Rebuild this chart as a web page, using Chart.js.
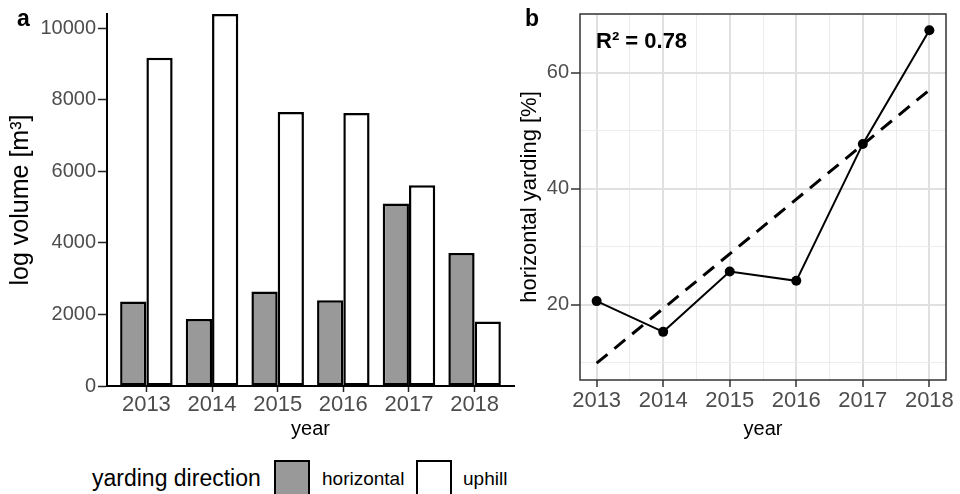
<!DOCTYPE html>
<html lang="en">
<head>
<meta charset="UTF-8">
<title>yarding direction</title>
<script src="https://cdn.jsdelivr.net/npm/chart.js"></script>
<style>
  body { margin: 0; background: #fff; width: 960px; height: 494px; overflow: hidden; position: relative;
         font-family: "Liberation Sans", Arial, sans-serif; }
  canvas { position: absolute; top: 0; }
  .lbl { position: absolute; font-weight: bold; font-size: 23px; line-height: 23px; color: #000; }
  .leg { position: absolute; color: #000; white-space: nowrap; }
  .box { position: absolute; width: 32px; height: 34px; border: 2px solid #000; }
</style>
</head>
<body>
<canvas id="chartA" width="530" height="450" style="left:0"></canvas>
<canvas id="chartB" width="460" height="450" style="left:500px"></canvas>

<div class="lbl" style="left:17px; top:7px">a</div>
<div class="lbl" style="left:525px; top:7px">b</div>

<div class="leg" style="left:92px; top:467px; font-size:23px; line-height:23px">yarding direction</div>
<div class="box" style="left:274px; top:460px; background:#999999"></div>
<div class="leg" style="left:322px; top:469px; font-size:19px; line-height:19px">horizontal</div>
<div class="box" style="left:416px; top:460px; background:#ffffff"></div>
<div class="leg" style="left:463px; top:469px; font-size:19px; line-height:19px">uphill</div>

<script>
  // values
  const years = [2013, 2014, 2015, 2016, 2017, 2018];
  const horizontalVol = [2360, 1870, 2640, 2400, 5100, 3720];
  const uphillVol = [9180, 10400, 7660, 7630, 5610, 1800];
  const volTicks = [0, 2000, 4000, 6000, 8000, 10000];

  const horizontalPct = [20.6, 15.3, 25.7, 24.1, 47.7, 67.3];
  const trendYears = [2013, 2018];
  const trendPct = [9.9, 57.0];
  const pctMajor = [20, 40, 60];
  const pctMinor = [10, 30, 50, 70];
  const yearMinor = [2013.5, 2014.5, 2015.5, 2016.5, 2017.5];

  Chart.defaults.font.family = '"Liberation Sans", Arial, sans-serif';
  Chart.defaults.animation = false;

  const tickGrey = '#4d4d4d';
  const asText = (v) => String(v);

  // panel a: log volume by year
  new Chart(document.getElementById('chartA'), {
    type: 'bar',
    data: {
      datasets: [
        {
          label: 'horizontal',
          data: years.map((x, i) => ({ x: x, y: horizontalVol[i] })),
          backgroundColor: '#999999',
          borderColor: '#000',
          borderWidth: 2.5,
          borderSkipped: false
        },
        {
          label: 'uphill',
          data: years.map((x, i) => ({ x: x, y: uphillVol[i] })),
          backgroundColor: '#ffffff',
          borderColor: '#000',
          borderWidth: 2.5,
          borderSkipped: false
        }
      ]
    },
    options: {
      responsive: false,
      layout: { padding: { top: 11, right: 16, left: 0, bottom: 0 } },
      categoryPercentage: 0.8,
      barPercentage: 1.0,
      plugins: { legend: { display: false }, tooltip: { enabled: false } },
      scales: {
        x: {
          type: 'linear',
          min: 2012.4,
          max: 2018.6,
          offset: false,
          afterBuildTicks: (s) => { s.ticks = years.map(v => ({ value: v })); },
          afterFit: (s) => { s.height = 64; },
          grid: { display: true, offset: false, drawOnChartArea: false, tickLength: 6, tickColor: '#222', tickWidth: 1.5 },
          border: { display: true, color: '#000', width: 2 },
          ticks: { color: tickGrey, font: { size: 22 }, padding: 0, autoSkip: false, maxRotation: 0, callback: asText },
          title: { display: true, text: 'year', color: '#000', font: { size: 20 }, padding: { top: 0, bottom: 9 } }
        },
        y: {
          min: 0,
          max: 10400,
          afterBuildTicks: (s) => { s.ticks = volTicks.map(v => ({ value: v })); },
          afterFit: (s) => { s.width = 107; },
          grid: { display: true, drawOnChartArea: false, tickLength: 9, tickColor: '#222', tickWidth: 1.5 },
          border: { display: true, color: '#000', width: 2 },
          ticks: { color: tickGrey, font: { size: 20 }, padding: 2, callback: asText },
          title: { display: true, text: 'log volume [m³]', color: '#000', font: { size: 25 }, padding: { top: 6, bottom: 0 } }
        }
      }
    }
  });

  // frame + R² label for panel b
  const panelFrame = {
    id: 'panelFrame',
    afterDraw(chart) {
      const { ctx, chartArea: a } = chart;
      ctx.save();
      ctx.strokeStyle = '#333';
      ctx.lineWidth = 1.5;
      ctx.strokeRect(a.left, a.top, a.right - a.left, a.bottom - a.top);
      ctx.fillStyle = '#000';
      ctx.font = 'bold 22px "Liberation Sans", Arial, sans-serif';
      ctx.textBaseline = 'alphabetic';
      ctx.fillText('R² = 0.78', a.left + 16, a.top + 34);
      ctx.restore();
    }
  };

  const isMajor = (v) => Number.isInteger(v) && (v > 100 || v % 20 === 0);

  // panel b: share of horizontal yarding
  new Chart(document.getElementById('chartB'), {
    type: 'line',
    data: {
      datasets: [
        {
          label: 'trend',
          data: trendYears.map((x, i) => ({ x: x, y: trendPct[i] })),
          borderColor: '#000',
          borderWidth: 3,
          borderDash: [14, 9],
          pointRadius: 0,
          fill: false
        },
        {
          label: 'horizontal yarding',
          data: years.map((x, i) => ({ x: x, y: horizontalPct[i] })),
          borderColor: '#000',
          backgroundColor: '#000',
          borderWidth: 2,
          pointRadius: 5,
          pointBorderWidth: 0,
          fill: false
        }
      ]
    },
    options: {
      responsive: false,
      layout: { padding: { top: 11, right: 14, left: 0, bottom: 0 } },
      plugins: { legend: { display: false }, tooltip: { enabled: false } },
      scales: {
        x: {
          type: 'linear',
          min: 2012.75,
          max: 2018.25,
          afterBuildTicks: (s) => { s.ticks = years.concat(yearMinor).sort().map(v => ({ value: v })); },
          afterFit: (s) => { s.height = 70; },
          grid: {
            color: (c) => isMajor(c.tick.value) ? '#e0e0e0' : '#ececec',
            lineWidth: (c) => isMajor(c.tick.value) ? 2 : 1,
            tickColor: (c) => isMajor(c.tick.value) ? '#333' : 'rgba(0,0,0,0)',
            tickLength: 7,
            tickWidth: 1.5
          },
          border: { display: false },
          ticks: { color: tickGrey, font: { size: 22 }, padding: 1, autoSkip: false, maxRotation: 0,
                   callback: (v) => isMajor(v) ? String(v) : '' },
          title: { display: true, text: 'year', color: '#000', font: { size: 20 }, padding: { top: 0, bottom: 9 } }
        },
        y: {
          min: 7.0,
          max: 70.1,
          afterBuildTicks: (s) => { s.ticks = pctMajor.concat(pctMinor).sort((p, q) => p - q).map(v => ({ value: v })); },
          afterFit: (s) => { s.width = 80; },
          grid: {
            color: (c) => isMajor(c.tick.value) ? '#e0e0e0' : '#ececec',
            lineWidth: (c) => isMajor(c.tick.value) ? 2 : 1,
            tickColor: (c) => isMajor(c.tick.value) ? '#333' : 'rgba(0,0,0,0)',
            tickLength: 9,
            tickWidth: 1.5
          },
          border: { display: false },
          ticks: { color: tickGrey, font: { size: 20 }, padding: 2, autoSkip: false,
                   callback: (v) => isMajor(v) ? String(v) : '' },
          title: { display: true, text: 'horizontal yarding [%]', color: '#000', font: { size: 22 }, padding: { top: 17, bottom: 0 } }
        }
      }
    },
    plugins: [panelFrame]
  });
</script>
</body>
</html>
